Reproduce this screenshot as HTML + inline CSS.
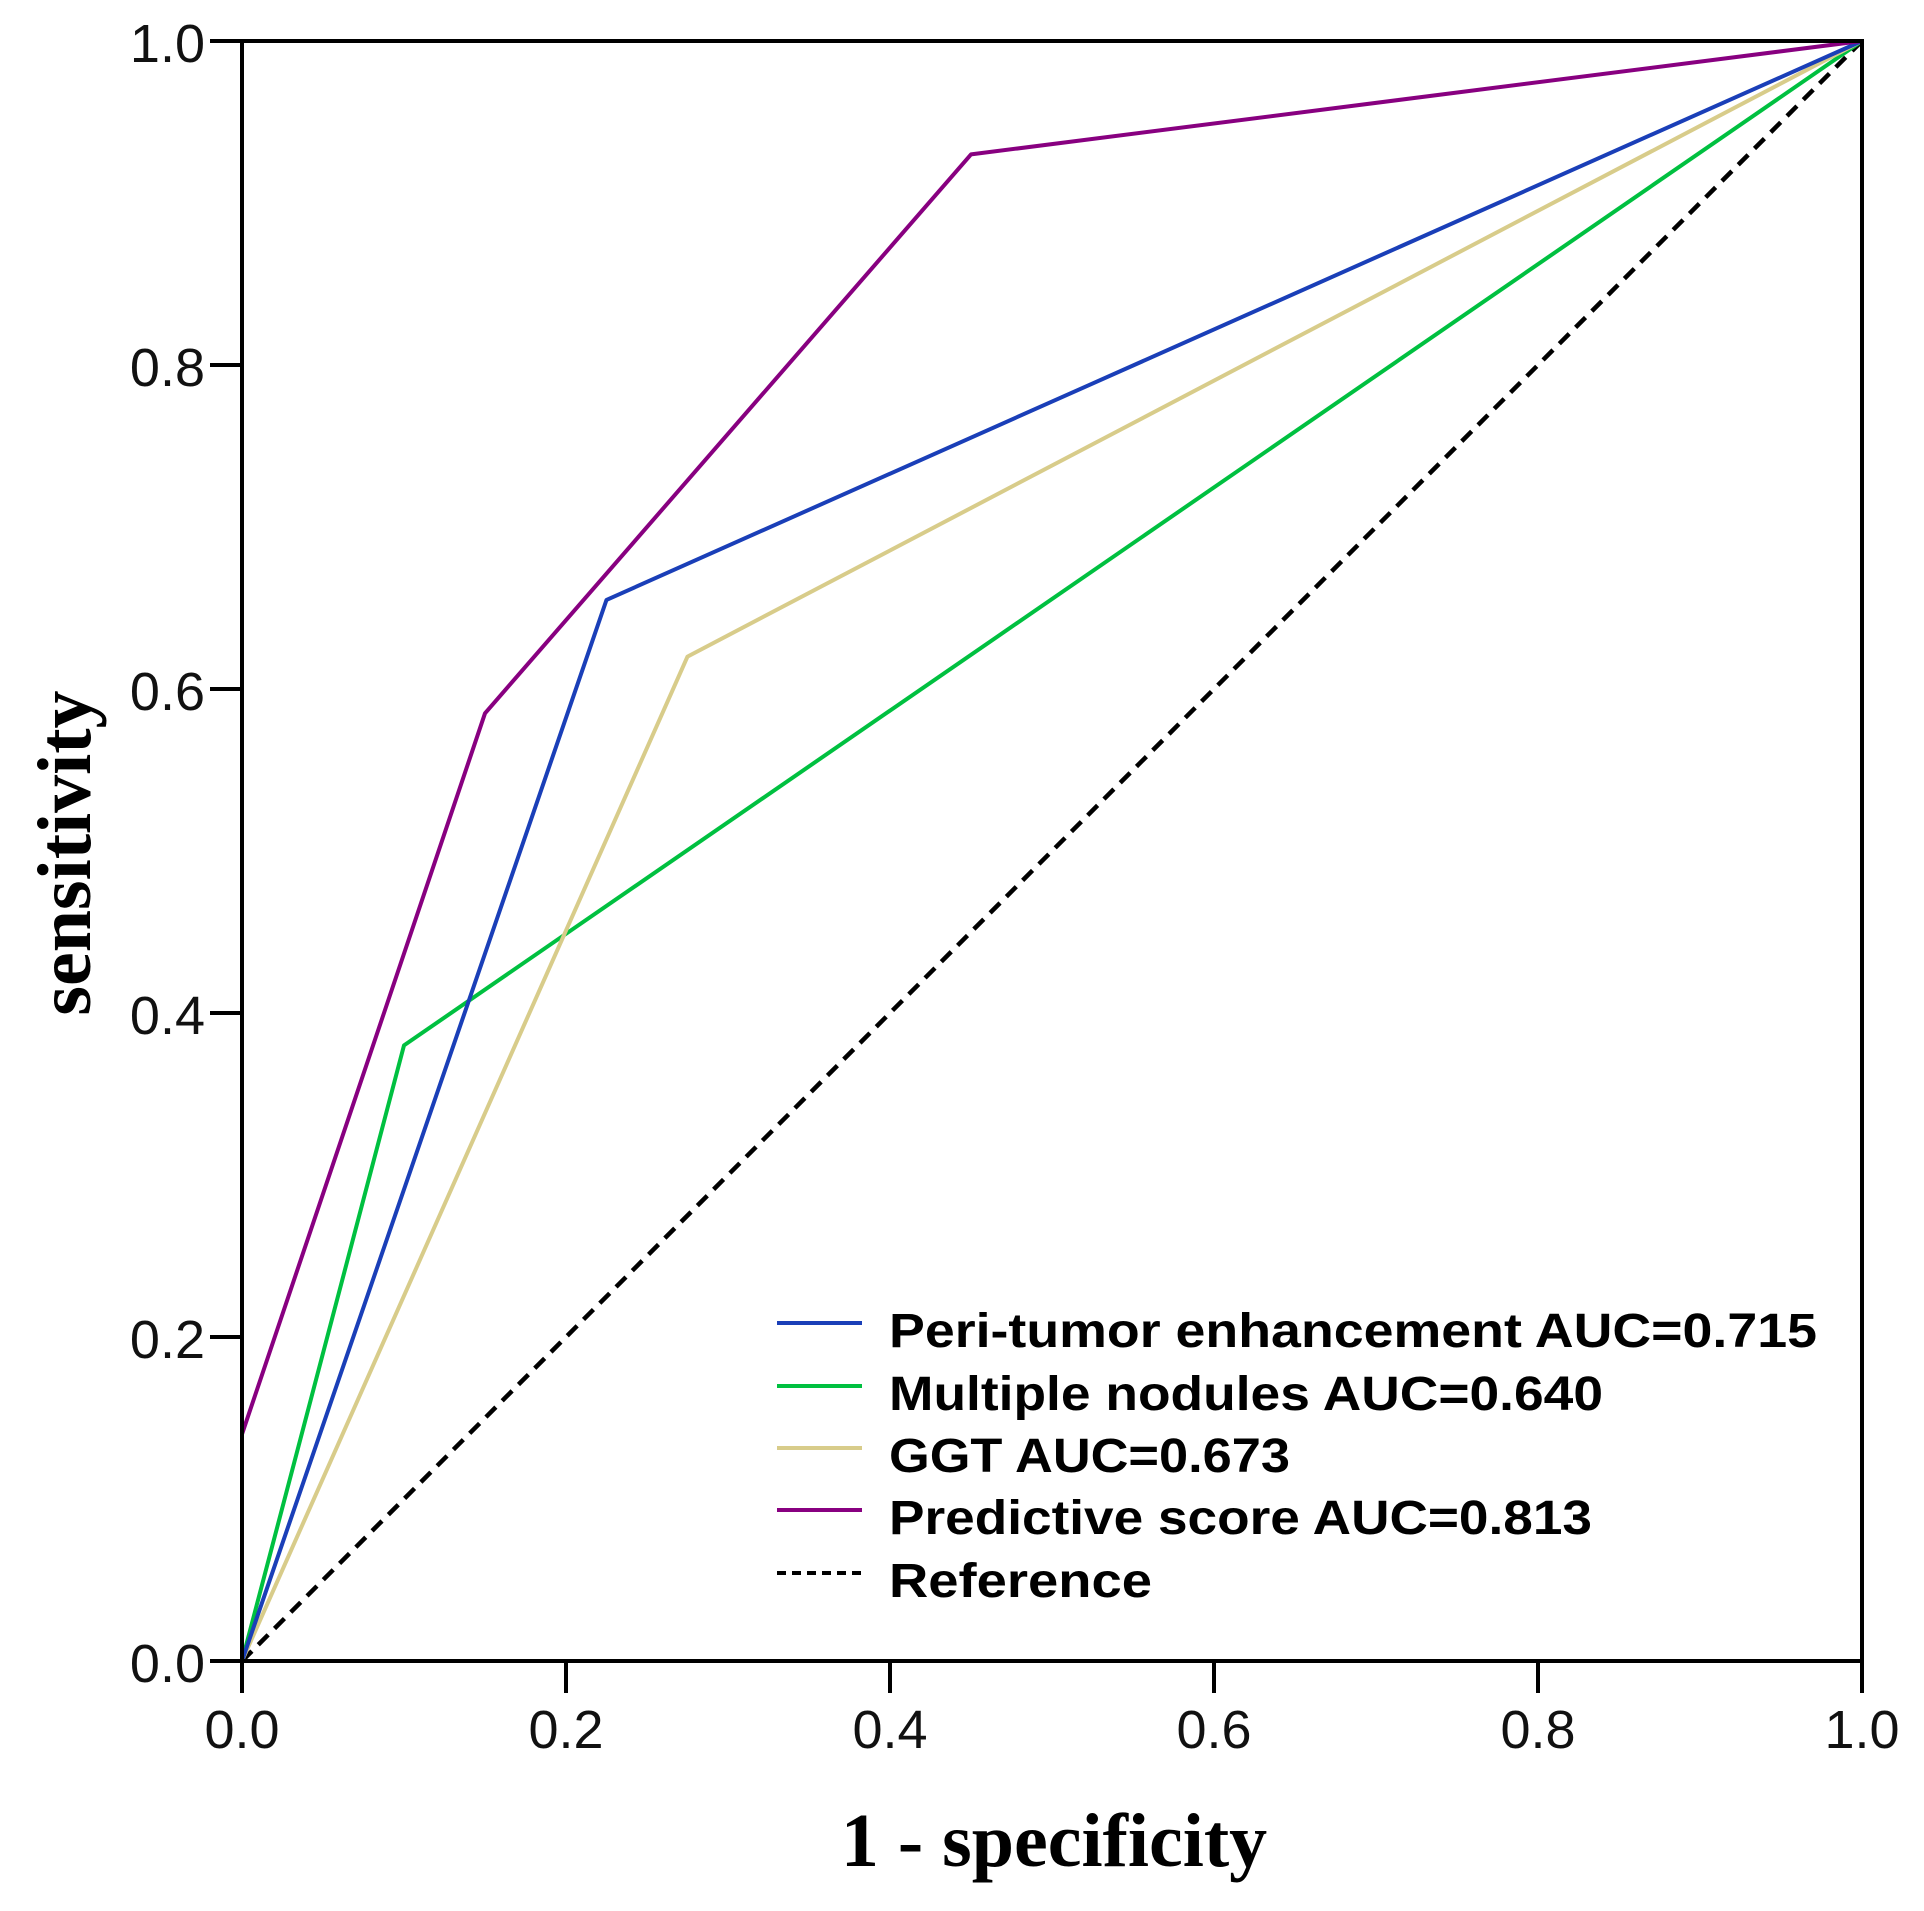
<!DOCTYPE html>
<html><head><meta charset="utf-8"><style>html,body{margin:0;padding:0;background:#fff}</style></head>
<body>
<svg width="1924" height="1906" viewBox="0 0 1924 1906" xmlns="http://www.w3.org/2000/svg">
<rect width="1924" height="1906" fill="#fff"/>
<g font-family="Liberation Sans, sans-serif" font-size="54" fill="#111">
<text x="205" y="62" text-anchor="end">1.0</text>
<text x="205" y="386" text-anchor="end">0.8</text>
<text x="205" y="710" text-anchor="end">0.6</text>
<text x="205" y="1034" text-anchor="end">0.4</text>
<text x="205" y="1358" text-anchor="end">0.2</text>
<text x="205" y="1682" text-anchor="end">0.0</text>
<text x="242" y="1748" text-anchor="middle">0.0</text>
<text x="566" y="1748" text-anchor="middle">0.2</text>
<text x="890" y="1748" text-anchor="middle">0.4</text>
<text x="1214" y="1748" text-anchor="middle">0.6</text>
<text x="1538" y="1748" text-anchor="middle">0.8</text>
<text x="1862" y="1748" text-anchor="middle">1.0</text>
</g>
<g font-family="Liberation Serif, serif" font-weight="bold" font-size="76" fill="#000">
<text x="1054" y="1866" text-anchor="middle">1 - specificity</text>
<text transform="translate(90,853) rotate(-90)" text-anchor="middle">sensitivity</text>
</g>
<g fill="none" stroke-width="4" stroke-linejoin="round">
<polyline stroke="#000" stroke-dasharray="14,9" stroke-width="4.5" points="242,1661 1862,41"/>
<polyline stroke="#00c040" points="242,1661 404,1045.4 1862,41"/>
<polyline stroke="#d8cc8a" points="242,1661 687.5,656.6 1862,41"/>
<polyline stroke="#1a3fb8" points="242,1661 606.5,599.9 1862,41"/>
<polyline stroke="#880080" points="242,1661 242,1434.2 485,713.3 971,154.4 1862,41"/>
</g>
<g stroke="#000" stroke-width="4" fill="none">
<rect x="242" y="41" width="1620" height="1620"/>
<line x1="210" y1="41" x2="242" y2="41"/>
<line x1="210" y1="365" x2="242" y2="365"/>
<line x1="210" y1="689" x2="242" y2="689"/>
<line x1="210" y1="1013" x2="242" y2="1013"/>
<line x1="210" y1="1337" x2="242" y2="1337"/>
<line x1="210" y1="1661" x2="242" y2="1661"/>
<line x1="242" y1="1661" x2="242" y2="1693"/>
<line x1="566" y1="1661" x2="566" y2="1693"/>
<line x1="890" y1="1661" x2="890" y2="1693"/>
<line x1="1214" y1="1661" x2="1214" y2="1693"/>
<line x1="1538" y1="1661" x2="1538" y2="1693"/>
<line x1="1862" y1="1661" x2="1862" y2="1693"/>
</g>
<g stroke-width="4">
<line x1="777" y1="1323" x2="862" y2="1323" stroke="#1a3fb8"/>
<line x1="777" y1="1386" x2="862" y2="1386" stroke="#00c040"/>
<line x1="777" y1="1448" x2="862" y2="1448" stroke="#d8cc8a"/>
<line x1="777" y1="1510" x2="862" y2="1510" stroke="#880080"/>
<line x1="777" y1="1573" x2="862" y2="1573" stroke="#000" stroke-dasharray="9,6"/>
</g>
<g font-family="Liberation Sans, sans-serif" font-weight="bold" font-size="48" fill="#000">
<text x="889" y="1347" textLength="928" lengthAdjust="spacingAndGlyphs">Peri-tumor enhancement AUC=0.715</text>
<text x="889" y="1410" textLength="714" lengthAdjust="spacingAndGlyphs">Multiple nodules AUC=0.640</text>
<text x="889" y="1472" textLength="401" lengthAdjust="spacingAndGlyphs">GGT AUC=0.673</text>
<text x="889" y="1534" textLength="703" lengthAdjust="spacingAndGlyphs">Predictive score AUC=0.813</text>
<text x="889" y="1597" textLength="263" lengthAdjust="spacingAndGlyphs">Reference</text>
</g>
</svg>
</body></html>
